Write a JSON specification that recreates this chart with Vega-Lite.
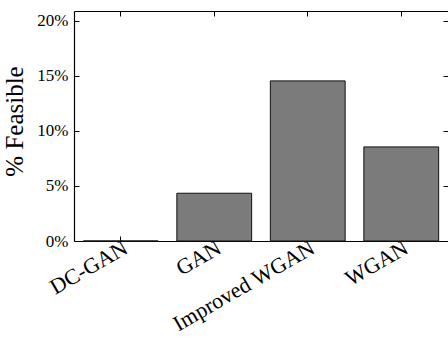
{
  "$schema": "https://vega.github.io/schema/vega-lite/v6.json",
  "width": 374,
  "height": 230,
  "autosize": {"type": "none"},
  "padding": {"left": 74, "top": 11, "right": 0, "bottom": 106},
  "data": {"values": [
    {"model": "DC-GAN", "feasible": 0.0},
    {"model": "GAN", "feasible": 0.0434},
    {"model": "Improved WGAN", "feasible": 0.1455},
    {"model": "WGAN", "feasible": 0.0855}
  ]},
  "layer": [
    {
      "mark": {"type": "bar", "color": "#7b7b7b", "stroke": "#111111", "strokeWidth": 1},
      "encoding": {
        "x": {"field": "model", "type": "nominal", "sort": null,
          "scale": {"paddingInner": 0.2, "paddingOuter": 0.1},
          "axis": {"orient": "bottom", "title": null, "labelAngle": -30, "labelAlign": "right", "labelBaseline": "top",
            "labelFont": "Liberation Serif", "labelFontSize": 22, "labelColor": "#000", "labelPadding": 1,
            "tickSize": -5, "tickColor": "#000", "domainColor": "#000", "domainWidth": 1.2}},
        "y": {"field": "feasible", "type": "quantitative",
          "scale": {"domain": [0, 0.209], "nice": false, "zero": true},
          "axis": {"orient": "left", "values": [0, 0.05, 0.1, 0.15, 0.2], "format": ".0%", "grid": false,
            "title": "% Feasible", "titleFont": "Liberation Serif", "titleFontSize": 25, "titleFontWeight": "normal", "titleColor": "#000", "titlePadding": 9, "titleY": 110,
            "labelFont": "Liberation Serif", "labelFontSize": 17, "labelColor": "#000", "labelPadding": 11,
            "tickSize": -5, "tickColor": "#000", "domainColor": "#000", "domainWidth": 1.2}}
      }
    },
    {
      "mark": {"type": "bar", "opacity": 0},
      "encoding": {
        "x": {"field": "model", "type": "nominal", "sort": null,
          "axis": {"orient": "top", "title": null, "labels": false, "tickSize": -5, "tickColor": "#000", "domainColor": "#000", "domainWidth": 1.2}},
        "y": {"field": "feasible", "type": "quantitative",
          "axis": {"orient": "right", "title": null, "labels": false, "grid": false, "values": [0, 0.05, 0.1, 0.15, 0.2], "tickSize": -5, "tickColor": "#000", "domain": false}}
      }
    }
  ],
  "resolve": {"axis": {"x": "independent", "y": "independent"}},
  "config": {"view": {"stroke": null}, "background": "white"}
}
